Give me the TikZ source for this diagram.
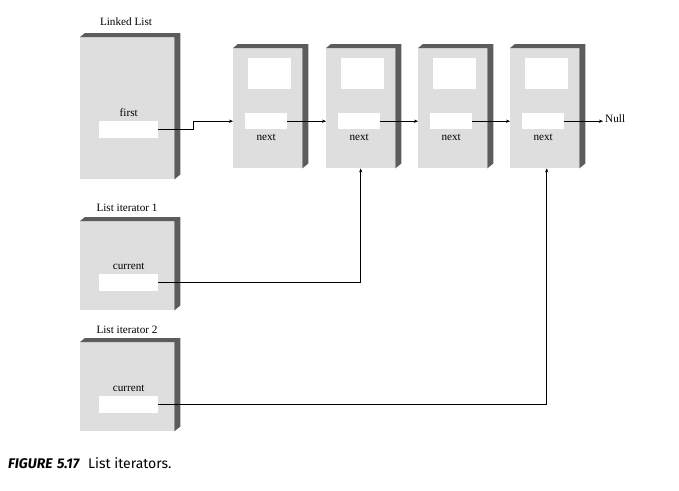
\documentclass[tikz,border=0pt]{standalone}
\usepackage{fontspec}
\setmainfont{Liberation Serif}
\newfontfamily\capfont{Fira Sans}
\usetikzlibrary{arrows.meta}
\definecolor{facegray}{RGB}{222,222,222}
\definecolor{sidegray}{RGB}{92,92,92}
\begin{document}
\begin{tikzpicture}[x=1pt,y=-1pt,
  face/.style={draw=none, fill=facegray, inner sep=0, anchor=north west},
  field/.style={draw=none, fill=white, inner sep=0, anchor=north west},
  lbl/.style={inner sep=0, font=\fontsize{11.2}{13}\selectfont},
  arr/.style={-{Stealth[length=4pt,width=3.2pt]}, line width=0.6pt},
  ln/.style={line width=0.6pt}]
\useasboundingbox (0,0) rectangle (679,490);
\def\boxside#1{\fill[sidegray] (#1.north west) -- ++(5,-4) -- ([shift={(6,-4)}]#1.north east) -- ([shift={(6,-5)}]#1.south east) -- (#1.south east) -- (#1.north east) -- cycle;}
% Linked list
\node[face, minimum width=94, minimum height=142] (ll) at (80,37) {};
\boxside{ll}
\node[lbl] (lltitle) at (126,22) {Linked List};
\node[field, minimum width=59, minimum height=17] (llp) at (99,121) {};
\node[lbl] (llfirst) at ([shift={(0,-8)}]llp.north) {first};
% list nodes
\foreach \n/\x in {n1/233, n2/326, n3/418, n4/510}{
  \node[face, minimum width=69, minimum height=120] (\n) at (\x,48) {};
  \boxside{\n}
  \node[field, minimum width=43, minimum height=31] (\n v) at ([shift={(15,10)}]\n.north west) {};
  \node[field, minimum width=42, minimum height=16] (\n p) at ([shift={(12,65)}]\n.north west) {};
  \node[lbl] (\n t) at ([shift={(0,8)}]\n p.south) {next};
}
\node[lbl, anchor=west] (null) at (605,119) {Null};
% iterators
\node[face, minimum width=94, minimum height=89] (it1) at (80,221) {};
\boxside{it1}
\node[lbl] (it1title) at (127,208) {List iterator 1};
\node[field, minimum width=59, minimum height=17] (it1p) at (99,274) {};
\node[lbl] (it1c) at ([shift={(0,-8)}]it1p.north) {current};
\node[face, minimum width=94, minimum height=89] (it2) at (80,342) {};
\boxside{it2}
\node[lbl] (it2title) at (127,330) {List iterator 2};
\node[field, minimum width=59, minimum height=17] (it2p) at (99,396) {};
\node[lbl] (it2c) at ([shift={(0,-8)}]it2p.north) {current};
% connectors
\draw[arr] (llp.east) -- ++(35,0) |- (n1.west |- n1p.east);
\draw[arr] (n1p.east) -- (n2.west |- n1p.east);
\draw[arr] (n2p.east) -- (n3.west |- n2p.east);
\draw[arr] (n3p.east) -- (n4.west |- n3p.east);
\draw[arr] (n4p.east) -- ([xshift=-2]null.west |- n4p.east);
\draw[arr] (it1p.east) -| (n2.south);
\draw[arr] (it2p.east) -| ([xshift=2]n4.south);
% caption
\node[inner sep=0, anchor=west, font=\capfont\fontsize{14}{16}\selectfont] (cap) at (8,463) {\textbf{\textit{FIGURE\ \hspace{0.1em}5.17}}\hspace{0.6em}List iterators.};
\end{tikzpicture}
\end{document}
